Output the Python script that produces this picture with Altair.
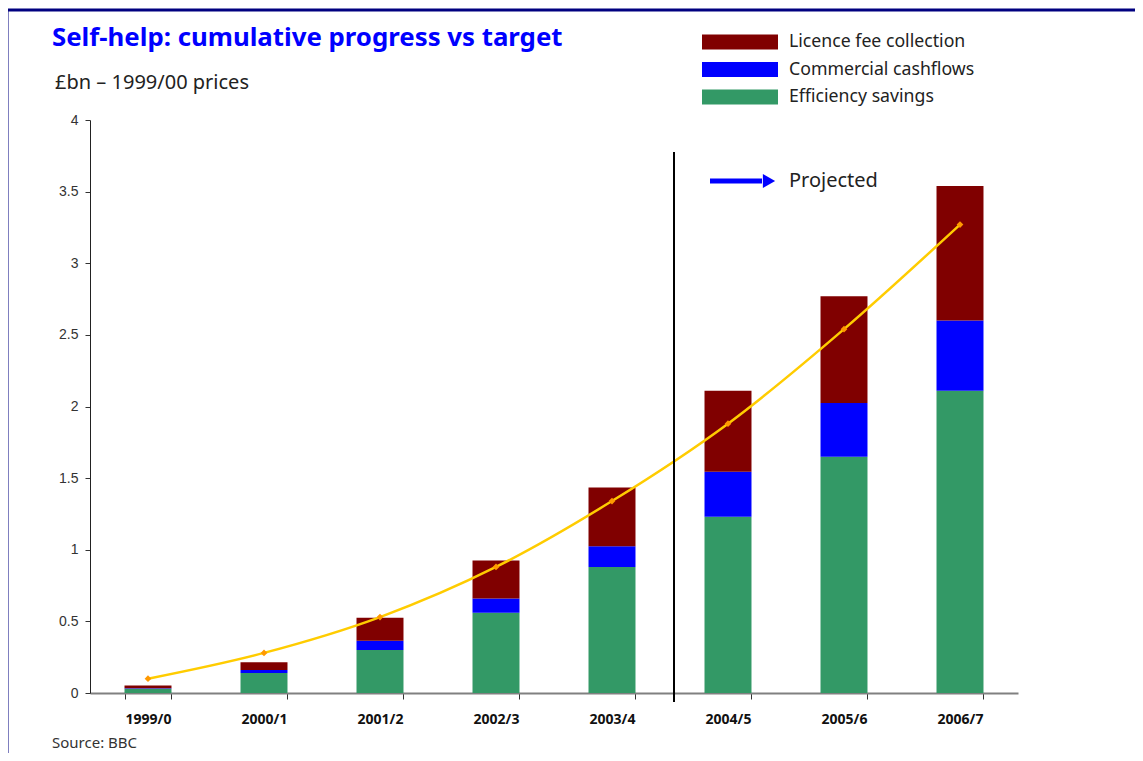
import altair as alt
import pandas as pd

years = ["1999/0", "2000/1", "2001/2", "2002/3", "2003/4", "2004/5", "2005/6", "2006/7"]
series = ["Licence fee collection", "Commercial cashflows", "Efficiency savings"]
colors = ["#800000", "#0000FF", "#339966"]
efficiency = [0.03, 0.14, 0.30, 0.56, 0.88, 1.23, 1.65, 2.11]
commercial = [0.004, 0.02, 0.065, 0.10, 0.145, 0.315, 0.375, 0.49]
licence = [0.018, 0.055, 0.16, 0.265, 0.41, 0.565, 0.745, 0.94]
target = [0.10, 0.28, 0.53, 0.88, 1.34, 1.88, 2.54, 3.27]
y_ticks = [0, 0.5, 1, 1.5, 2, 2.5, 3, 3.5, 4]

rows = []
for i, yr in enumerate(years):
    rows.append({"year": yr, "series": series[2], "value": efficiency[i], "ord": 0})
    rows.append({"year": yr, "series": series[1], "value": commercial[i], "ord": 1})
    rows.append({"year": yr, "series": series[0], "value": licence[i], "ord": 2})
bars_df = pd.DataFrame(rows)
line_df = pd.DataFrame({"year": years, "target": target})

W, H = 928, 573
FONT = "Noto Sans"
NARROW = "Liberation Sans Narrow, Liberation Sans"

xscale = alt.Scale(domain=years, paddingInner=0.595, paddingOuter=0.2975)
yscale = alt.Scale(domain=[0, 4], nice=False)

bars = alt.Chart(bars_df).mark_bar().encode(
    x=alt.X("year:N", scale=xscale, sort=years, title=None,
            axis=alt.Axis(labelAngle=0, labelFont=FONT, labelFontWeight="bold", labelFontSize=14,
                          labelColor="#111", labelPadding=13, tickBand="extent", tickSize=6,
                          tickColor="#333", domainColor="#808080", domainWidth=2, grid=False)),
    y=alt.Y("value:Q", stack="zero", scale=yscale, title=None,
            axis=alt.Axis(values=y_ticks, format="~g", labelFont=NARROW, labelFontSize=14,
                          labelColor="#333", tickSize=5, tickColor="#333", domainColor="#222",
                          domainWidth=1, grid=False, labelPadding=7)),
    color=alt.Color("series:N", scale=alt.Scale(domain=series, range=colors), legend=None),
    order=alt.Order("ord:Q", sort="ascending"),
)

line = alt.Chart(line_df).mark_line(color="#FFCC00", strokeWidth=2.5, interpolate="monotone").encode(
    x=alt.X("year:N", scale=xscale, sort=years),
    y=alt.Y("target:Q", scale=yscale),
)
pts = alt.Chart(line_df).mark_point(shape="diamond", filled=True, color="#FF9900", size=45, opacity=1).encode(
    x=alt.X("year:N", scale=xscale, sort=years),
    y=alt.Y("target:Q", scale=yscale),
)

one = pd.DataFrame({"a": [0]})

def txt(s, x, y, size, color="#222", weight="normal", font=FONT, align="left", baseline="middle"):
    return alt.Chart(one).mark_text(text=s, fontSize=size, color=color, fontWeight=weight, font=font,
                                    align=align, baseline=baseline).encode(x=alt.value(x), y=alt.value(y))

def rule(x, x2, y, y2, color, w):
    return alt.Chart(one).mark_rule(color=color, strokeWidth=w).encode(
        x=alt.value(x), x2=alt.value(x2), y=alt.value(y), y2=alt.value(y2))

layers = [bars, line, pts]

# projection divider
layers.append(rule(584, 584, 32, 582, "#000000", 2))

# legend
leg_y = [-78, -50.5, -23]
for i, name in enumerate(series):
    layers.append(alt.Chart(one).mark_rect(color=colors[i]).encode(
        x=alt.value(612), x2=alt.value(688), y=alt.value(leg_y[i] - 7.5), y2=alt.value(leg_y[i] + 7.5)))
    layers.append(txt(name, 699, leg_y[i], 17.7))

# projected arrow
layers.append(rule(620, 672, 61, 61, "#0000FF", 5))
layers.append(alt.Chart(one).mark_point(shape="triangle-right", filled=True, color="#0000FF", size=200, opacity=1).encode(
    x=alt.value(679), y=alt.value(61)))
layers.append(txt("Projected", 699, 61, 20))

# titles
layers.append(txt("Self-help: cumulative progress vs target", -38, -74, 25.8, color="#0000FF", weight="bold", baseline="alphabetic"))
layers.append(txt("£bn \u2013 1999/00 prices", -35, -31, 20, baseline="alphabetic"))
layers.append(txt("Source: BBC", -38, 623, 15, color="#333"))

# frame
layers.append(rule(-83, 1060, -110, -110, "#000080", 3))
layers.append(rule(-83, -83, -110, 700, "#000080", 3))

chart = alt.layer(*layers).properties(
    width=W, height=H,
    autosize=alt.AutoSizeParams(type="none"),
    padding={"left": 82, "top": 112, "right": 117, "bottom": 60},
).configure_view(stroke=None)

chart.save("out.html", embed_options={"renderer": "svg", "actions": False})
